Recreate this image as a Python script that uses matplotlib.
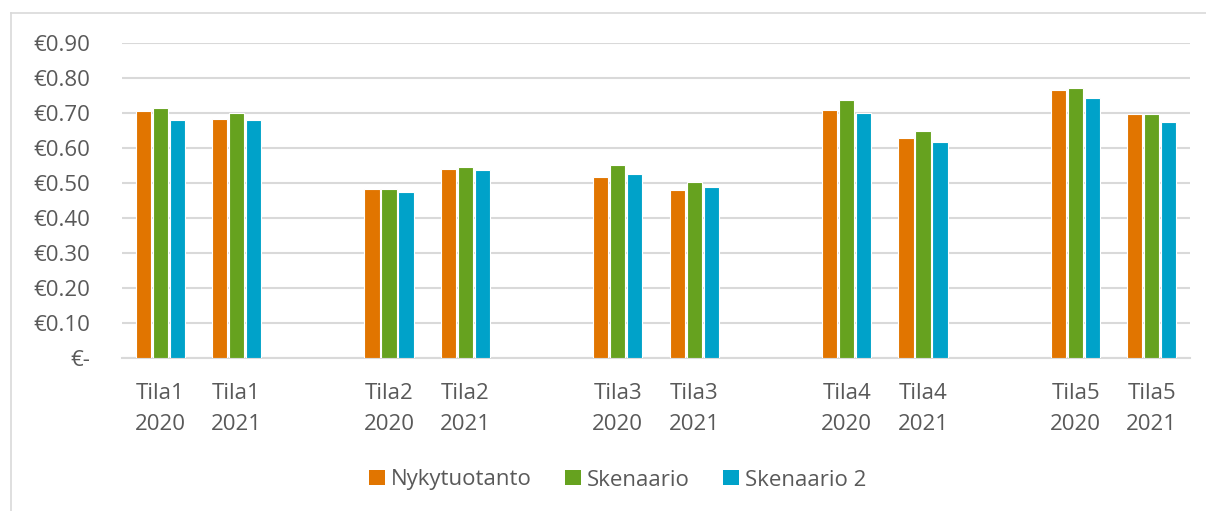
import matplotlib
matplotlib.use("Agg")
import matplotlib.pyplot as plt
from matplotlib.lines import Line2D
from matplotlib.patches import Patch
import numpy as np

plt.rcParams['font.family'] = ['Open Sans', 'DejaVu Sans']

categories = ["Tila1\n2020", "Tila1\n2021", "",
              "Tila2\n2020", "Tila2\n2021", "",
              "Tila3\n2020", "Tila3\n2021", "",
              "Tila4\n2020", "Tila4\n2021", "",
              "Tila5\n2020", "Tila5\n2021"]
series_names = ["Nykytuotanto", "Skenaario", "Skenaario 2"]
nykytuotanto = [0.706, 0.684, None, 0.484, 0.541, None, 0.518, 0.481, None, 0.709, 0.630, None, 0.766, 0.698]
skenaario    = [0.713, 0.699, None, 0.484, 0.545, None, 0.551, 0.502, None, 0.736, 0.650, None, 0.771, 0.698]
skenaario2   = [0.679, 0.679, None, 0.473, 0.538, None, 0.527, 0.488, None, 0.700, 0.618, None, 0.743, 0.674]
colors = ["#E17500", "#66A21F", "#00A2C9"]
yticks = [0.0, 0.1, 0.2, 0.3, 0.4, 0.5, 0.6, 0.7, 0.8, 0.9]
ytick_labels = ["€-", "€0.10", "€0.20", "€0.30", "€0.40", "€0.50", "€0.60", "€0.70", "€0.80", "€0.90"]

text_color = "#595959"
grid_color = "#D9D9D9"

fig = plt.figure(figsize=(12.06, 5.11), dpi=100)
# outer chart border
fig.add_artist(Line2D([10.5/1206, 10.5/1206], [0, 1 - 13.5/511], color=grid_color, lw=1.2))
fig.add_artist(Line2D([10.5/1206, 1], [1 - 13.5/511, 1 - 13.5/511], color=grid_color, lw=1.2))

ax = fig.add_axes([122/1206, 1 - 358/511, (1190 - 122)/1206, (358 - 43)/511])

x = np.arange(len(categories))
pitch = 0.223
width = 0.20
for i, (vals, col) in enumerate(zip([nykytuotanto, skenaario, skenaario2], colors)):
    xs = [xi + (i - 1) * pitch for xi, v in zip(x, vals) if v is not None]
    vs = [v for v in vals if v is not None]
    ax.bar(xs, vs, width=width, color=col, edgecolor="white", linewidth=0.8, zorder=3)

ax.set_xlim(-0.5, len(categories) - 0.5)
ax.set_ylim(0, 0.9)
ax.set_yticks(yticks)
ax.set_yticklabels(ytick_labels)
ax.set_xticks(x)
ax.set_xticklabels(categories, linespacing=1.62)
ax.yaxis.grid(True, color=grid_color, lw=1.5, zorder=0)
ax.set_axisbelow(True)
for s in ["top", "right", "left"]:
    ax.spines[s].set_visible(False)
ax.spines["bottom"].set_color(grid_color)
ax.spines["bottom"].set_linewidth(1.5)
ax.tick_params(axis="both", length=0, colors=text_color, labelsize=16)
ax.tick_params(axis="y", pad=23)
ax.tick_params(axis="x", pad=18)
for lbl in ax.get_yticklabels():
    lbl.set_horizontalalignment("right")

handles = [Patch(facecolor=c, edgecolor="none") for c in colors]
leg = fig.legend(handles, series_names, loc="center", bbox_to_anchor=(618/1206, 1 - 480/511),
                 ncol=3, frameon=False, fontsize=16, handlelength=0.68, handleheight=0.68,
                 handletextpad=0.3, columnspacing=1.5, labelcolor=text_color)

fig.savefig("out.png", dpi=100, facecolor="white")
